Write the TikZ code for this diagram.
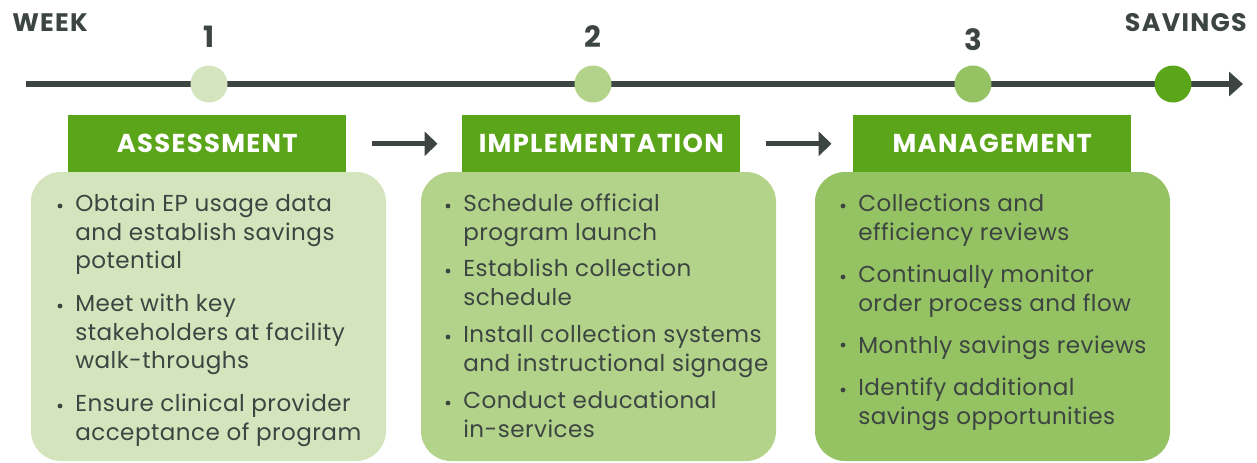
\documentclass[tikz,border=0pt]{standalone}
\usepackage{fontspec}
\setmainfont{Poppins}
\newfontfamily\spacedfont{Poppins}[LetterSpace=5]
\newfontfamily\itemfont{Poppins}[LetterSpace=2]
\usetikzlibrary{arrows.meta}
\definecolor{darkline}{HTML}{3C4541}
\definecolor{stepgreen}{HTML}{5AA51A}
\definecolor{weekone}{HTML}{D4E5BD}
\definecolor{weektwo}{HTML}{B3D38B}
\definecolor{weekthree}{HTML}{95C262}
\begin{document}
\begin{tikzpicture}[x=0.75pt,y=-0.75pt,
	phasehead/.style={fill=stepgreen,text=white,inner sep=0pt,minimum width=208.5pt,minimum height=42.75pt,font=\spacedfont\bfseries\fontsize{19.4}{19.4}\selectfont},
	phasebox/.style={rounded corners=22.5pt},
	itemtext/.style={anchor=north west,align=left,inner sep=0pt,text=darkline,font=\itemfont\fontsize{17.3}{21.4}\selectfont,execute at begin node=\strut},
	weektext/.style={text=darkline,inner sep=0pt,font=\spacedfont\bfseries\fontsize{19}{19}\selectfont},
	weeknum/.style={text=darkline,inner sep=0pt,font=\bfseries\fontsize{22}{22}\selectfont},
	weekdot/.style={circle,inner sep=0pt,minimum size=27.75pt}]
	\useasboundingbox (0,0) rectangle (1257,462);
	% time line
	\coordinate (tstart) at (26,84);
	\coordinate (tend) at (1243,84);
	\draw[line width=4.5pt,color=darkline,-{Triangle[length=10.5pt,width=18pt]}] (tstart) -- (tend);
	\node[weektext,anchor=west] (week) at (12,23) {WEEK};
	\node[weektext,anchor=east] (savings) at (1247,23) {SAVINGS};
	\node[weekdot,fill=weekone] (d1) at (209,84) {};
	\node[weekdot,fill=weektwo] (d2) at (593,84) {};
	\node[weekdot,fill=weekthree] (d3) at (973,84) {};
	\node[weekdot,fill=stepgreen] (d4) at (1173,84) {};
	\node[weeknum] (n1) at (209,37) {1};
	\node[weeknum] (n2) at (593,37) {2};
	\node[weeknum] (n3) at (973,40) {3};
	% phase boxes
	\fill[weekone,phasebox] (31,172) rectangle (386,461);
	\fill[weektwo,phasebox] (421,172) rectangle (776,461);
	\fill[weekthree,phasebox] (815,172) rectangle (1170,461);
	\node[phasehead,anchor=north west] (assess) at (68,115) {ASSESSMENT};
	\node[phasehead,anchor=north west] (impl) at (462,115) {IMPLEMENTATION};
	\node[phasehead,anchor=north west] (manage) at (853,115) {MANAGEMENT};
	\draw[line width=3.75pt,color=darkline,-{Triangle[length=9.75pt,width=18pt]}] (assess.east) ++(25,0) -- ++(66,0) coordinate (a1end);
	\draw[line width=3.75pt,color=darkline,-{Triangle[length=9.75pt,width=18pt]}] (impl.east) ++(25,0) -- ++(66,0) coordinate (a2end);
	% items
	\node[itemtext] (a1) at (75,194) {Obtain EP usage data\\and establish savings\\potential};
	\node[itemtext] (a2) at (75,294) {Meet with key\\stakeholders at facility\\walk-throughs};
	\node[itemtext] (a3) at (75,394) {Ensure clinical provider\\acceptance of program};
	\node[itemtext] (b1) at (463,194) {Schedule official\\program launch};
	\node[itemtext] (b2) at (463,259) {Establish collection\\schedule};
	\node[itemtext] (b3) at (463,325) {Install collection systems\\and instructional signage};
	\node[itemtext] (b4) at (463,391) {Conduct educational\\in-services};
	\node[itemtext] (c1) at (858,194) {Collections and\\efficiency reviews};
	\node[itemtext] (c2) at (858,265) {Continually monitor\\order process and flow};
	\node[itemtext] (c3) at (858,333) {Monthly savings reviews};
	\node[itemtext] (c4) at (858,378) {Identify additional\\savings opportunities};
	\foreach \p in {a1,a2,a3,b1,b2,b3,b4,c1,c2,c3,c4}
		\fill[darkline] (\p.north west) ++(-15,12) circle (2.4);
\end{tikzpicture}
\end{document}
